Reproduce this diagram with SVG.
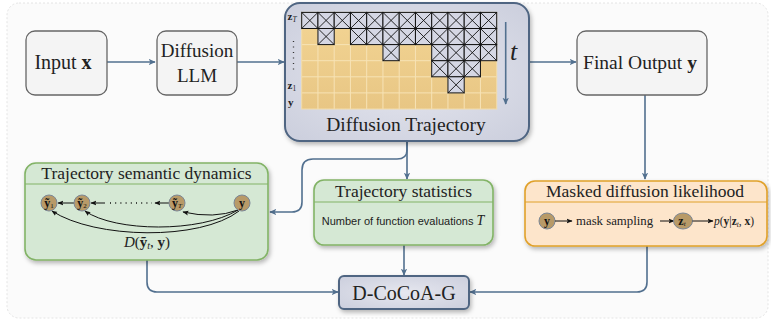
<svg xmlns="http://www.w3.org/2000/svg" width="771" height="321" viewBox="0 0 771 321">
<defs>
<style>
.conn{fill:none;stroke:#52708f;stroke-width:1.6}
.inner{fill:none;stroke:#111;stroke-width:1}
.gray{fill:#f4f4f4;stroke:#666;stroke-width:1.3}
.lav{stroke:#4f6582;stroke-width:2}
.green{fill:#d5e8d4;stroke:#82b366;stroke-width:1.6}
.peach{fill:#fde5cb;stroke:#e0a12a;stroke-width:1.6}
.serif{font-family:"Liberation Serif","DejaVu Serif",serif;fill:#222}
.sans{font-family:"Liberation Sans",Arial,sans-serif;fill:#222}
.node{fill:#b89a68;stroke:#7b8797;stroke-width:1}
.nl{font-family:"Liberation Serif","DejaVu Serif",serif;font-weight:bold;font-size:12px;fill:#111;text-anchor:middle}
</style>
<marker id="ah" viewBox="0 0 10 10" refX="9" refY="5" markerWidth="7" markerHeight="7" orient="auto" markerUnits="userSpaceOnUse">
<path d="M0,0.5 L10,5 L0,9.5 L2.5,5 Z" fill="#52708f"/>
</marker>
<marker id="bh" viewBox="0 0 10 10" refX="9" refY="5" markerWidth="6" markerHeight="6" orient="auto" markerUnits="userSpaceOnUse">
<path d="M0,1 L10,5 L0,9 L2,5 Z" fill="#111"/>
</marker>
<radialGradient id="lavg" cx="50%" cy="50%" r="65%">
<stop offset="0" stop-color="#e6e7ef"/>
<stop offset="1" stop-color="#cdd0de"/>
</radialGradient>
<linearGradient id="yg" x1="0" y1="0" x2="0" y2="1">
<stop offset="0" stop-color="#f3d594"/>
<stop offset="1" stop-color="#e8c684"/>
</linearGradient>
<filter id="sh" x="-10%" y="-10%" width="125%" height="130%">
<feDropShadow dx="1.5" dy="2.5" stdDeviation="2" flood-color="#000" flood-opacity="0.28"/>
</filter>
<g id="m">
<rect width="16.25" height="16.1" fill="#d5d7e4" stroke="#111" stroke-width="1"/>
<path d="M0,0L16.25,16.1M16.25,0L0,16.1" stroke="#111" stroke-width="0.9"/>
</g>
</defs>

<rect x="7" y="3" width="761" height="315" rx="12" fill="#fbfbfb" stroke="#e4e4e4" stroke-dasharray="2,2"/>

<g id="connectors">
<path class="conn" d="M107,62 H155" marker-end="url(#ah)"/>
<path class="conn" d="M237,62 H284" marker-end="url(#ah)"/>
<path class="conn" d="M529,62 H576" marker-end="url(#ah)"/>
<path class="conn" d="M645,95 V179" marker-end="url(#ah)"/>
<path class="conn" d="M407,141 V179" marker-end="url(#ah)"/>
<path class="conn" d="M407,141 V150 Q407,159 397,159 H313 Q302,159 302,170 V202 Q302,212 292,212 H270" marker-end="url(#ah)"/>
<path class="conn" d="M147,260 V282 Q147,292 157,292 H338" marker-end="url(#ah)"/>
<path class="conn" d="M404,245 V275" marker-end="url(#ah)"/>
<path class="conn" d="M647,246 V282 Q647,292 637,292 H470" marker-end="url(#ah)"/>
</g>

<g id="input">
<rect class="gray" x="26" y="31" width="81" height="64" rx="9"/>
<text class="serif" x="63" y="69" font-size="20" text-anchor="middle">Input <tspan font-weight="bold">x</tspan></text>
</g>

<g id="llm">
<rect class="gray" x="157" y="31" width="80" height="64" rx="9"/>
<text class="serif" x="197" y="57" font-size="19" text-anchor="middle">Diffusion</text>
<text class="serif" x="197" y="82" font-size="19" text-anchor="middle">LLM</text>
</g>

<g id="trajectory">
<rect class="lav" x="285" y="3" width="244" height="138" rx="15" fill="url(#lavg)" filter="url(#sh)"/>
<g transform="translate(301.7,12.4)">
<rect x="0" y="0" width="195" height="96.6" fill="url(#yg)"/>
<path d="M16.25,0V96.6M32.5,0V96.6M48.75,0V96.6M65,0V96.6M81.25,0V96.6M97.5,0V96.6M113.75,0V96.6M130,0V96.6M146.25,0V96.6M162.5,0V96.6M178.75,0V96.6M0,16.1H195M0,32.2H195M0,48.3H195M0,64.4H195M0,80.5H195" stroke="#f7e3b6" stroke-width="1" fill="none"/>
<rect x="0" y="0" width="195" height="96.6" fill="none" stroke="#f2dcaa" stroke-width="1"/>
<use href="#m" x="0" y="0"/><use href="#m" x="16.25" y="0"/><use href="#m" x="32.5" y="0"/><use href="#m" x="48.75" y="0"/><use href="#m" x="65" y="0"/><use href="#m" x="81.25" y="0"/><use href="#m" x="97.5" y="0"/><use href="#m" x="113.75" y="0"/><use href="#m" x="130" y="0"/><use href="#m" x="146.25" y="0"/><use href="#m" x="162.5" y="0"/><use href="#m" x="178.75" y="0"/>
<use href="#m" x="16.25" y="16.1"/><use href="#m" x="48.75" y="16.1"/><use href="#m" x="65" y="16.1"/><use href="#m" x="81.25" y="16.1"/><use href="#m" x="97.5" y="16.1"/><use href="#m" x="113.75" y="16.1"/><use href="#m" x="130" y="16.1"/><use href="#m" x="146.25" y="16.1"/><use href="#m" x="162.5" y="16.1"/><use href="#m" x="178.75" y="16.1"/>
<use href="#m" x="81.25" y="32.2"/><use href="#m" x="130" y="32.2"/><use href="#m" x="146.25" y="32.2"/><use href="#m" x="162.5" y="32.2"/><use href="#m" x="178.75" y="32.2"/>
<use href="#m" x="130" y="48.3"/><use href="#m" x="146.25" y="48.3"/><use href="#m" x="162.5" y="48.3"/>
<use href="#m" x="146.25" y="64.4"/>
</g>
<text class="serif" x="287.5" y="20" font-size="11" font-weight="bold">z<tspan font-size="7.5" font-weight="normal" font-style="italic" dy="2">T</tspan></text>
<path d="M293.5,41 V71" stroke="#333" stroke-width="1.3" stroke-dasharray="1,4.5" fill="none"/>
<text class="serif" x="287.5" y="89" font-size="11" font-weight="bold">z<tspan font-size="7.5" font-weight="normal" dy="2">1</tspan></text>
<text class="serif" x="288" y="106" font-size="11" font-weight="bold">y</text>
<text class="serif" x="510" y="60" font-size="26" font-style="italic">t</text>
<path class="conn" d="M505.7,22 V104" marker-end="url(#ah)"/>
<text class="serif" x="406" y="131" font-size="19.5" text-anchor="middle">Diffusion Trajectory</text>
</g>

<g id="final">
<rect class="gray" x="577" y="31" width="130" height="64" rx="9"/>
<text class="serif" x="640" y="69" font-size="19.5" text-anchor="middle">Final Output <tspan font-weight="bold">y</tspan></text>
</g>

<g id="semantic">
<rect class="green" x="25" y="163" width="243" height="97" rx="11" filter="url(#sh)"/>
<path d="M25,184 H268" stroke="#82b366" stroke-width="1"/>
<text class="serif" x="146.5" y="179" font-size="17.5" text-anchor="middle">Trajectory semantic dynamics</text>
<path class="inner" d="M74,203 H58" marker-end="url(#bh)"/>
<path class="inner" d="M105,203 H91" marker-end="url(#bh)"/>
<path d="M110,203 H152" stroke="#111" stroke-width="1.3" stroke-dasharray="1,4.2" fill="none"/>
<path class="inner" d="M169,203 H155" marker-end="url(#bh)"/>
<path class="inner" d="M238,210 Q214,219 183,212" marker-end="url(#bh)"/>
<path class="inner" d="M238,210 C200,233 115,232 85,211" marker-end="url(#bh)"/>
<path class="inner" d="M239,211 C200,241 95,239 52,211" marker-end="url(#bh)"/>
<circle class="node" cx="49" cy="203" r="8"/>
<text class="nl" x="49" y="207">ỹ<tspan font-size="7" font-weight="normal" dy="1">1</tspan></text>
<circle class="node" cx="82" cy="203" r="8"/>
<text class="nl" x="82" y="207">ỹ<tspan font-size="7" font-weight="normal" dy="1">2</tspan></text>
<circle class="node" cx="177" cy="203" r="8"/>
<text class="nl" x="177" y="207">ỹ<tspan font-size="7" font-weight="normal" font-style="italic" dy="1">T</tspan></text>
<circle class="node" cx="242" cy="203" r="8"/>
<text class="nl" x="242" y="207">y</text>
<text class="serif" x="147" y="247" font-size="15" text-anchor="middle"><tspan font-style="italic">D</tspan>(<tspan font-weight="bold">ỹ</tspan><tspan font-size="10" font-style="italic" dy="2">t</tspan><tspan dy="-2">, </tspan><tspan font-weight="bold">y</tspan>)</text>
</g>

<g id="stats">
<rect class="green" x="314" y="180" width="179" height="65" rx="10" filter="url(#sh)"/>
<path d="M314,202 H493" stroke="#82b366" stroke-width="1"/>
<text class="serif" x="403.5" y="196.5" font-size="17.5" text-anchor="middle">Trajectory statistics</text>
<text class="sans" x="403" y="225" font-size="11" text-anchor="middle">Number of function evaluations <tspan font-family="Liberation Serif,serif" font-style="italic" font-size="14">T</tspan></text>
</g>

<g id="masked">
<rect class="peach" x="525" y="181" width="242" height="65" rx="10" filter="url(#sh)"/>
<path d="M525,202 H767" stroke="#e0a12a" stroke-width="1"/>
<text class="serif" x="645" y="197" font-size="17.5" text-anchor="middle">Masked diffusion likelihood</text>
<circle class="node" cx="547" cy="221" r="8"/>
<text class="nl" x="547" y="225">y</text>
<path class="inner" d="M555,221 H572" marker-end="url(#bh)"/>
<text class="serif" x="576" y="225" font-size="12.8">mask sampling</text>
<path class="inner" d="M660,221 H674" marker-end="url(#bh)"/>
<ellipse class="node" cx="683" cy="221" rx="9.5" ry="8"/>
<text class="nl" x="682" y="225">z<tspan font-size="7" font-weight="normal" font-style="italic" dy="1">t</tspan></text>
<path class="inner" d="M692.5,221 H713" marker-end="url(#bh)"/>
<text class="serif" x="714" y="225" font-size="11.5"><tspan font-style="italic">p</tspan>(<tspan font-weight="bold">y</tspan>|<tspan font-weight="bold">z</tspan><tspan font-size="7.5" font-style="italic" dy="1.5">t</tspan><tspan dy="-1.5">, </tspan><tspan font-weight="bold">x</tspan>)</text>
</g>

<g id="dcocoa">
<rect class="lav" x="339" y="276" width="130" height="33" rx="5" fill="url(#lavg)" stroke-width="1.6" filter="url(#sh)"/>
<text class="serif" x="404" y="299.5" font-size="20" text-anchor="middle">D-CoCoA-G</text>
</g>
</svg>
